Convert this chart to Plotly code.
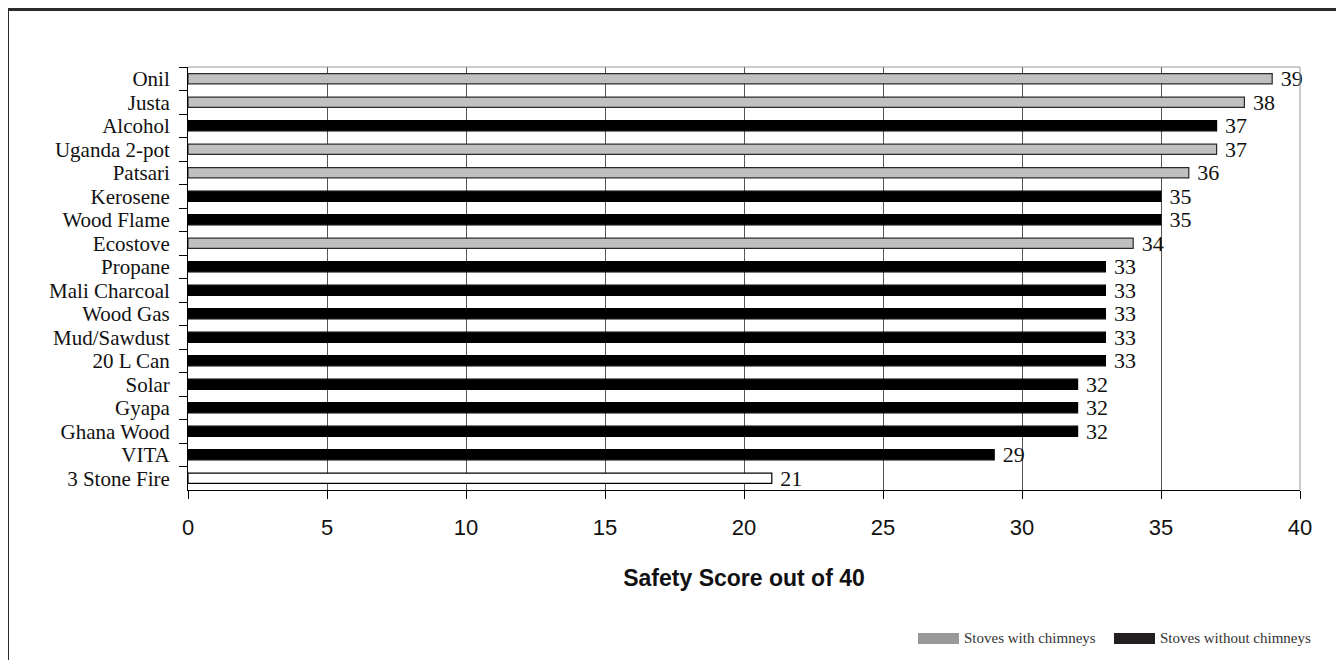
import plotly.graph_objects as go

categories = ["Onil", "Justa", "Alcohol", "Uganda 2-pot", "Patsari", "Kerosene", "Wood Flame",
              "Ecostove", "Propane", "Mali Charcoal", "Wood Gas", "Mud/Sawdust", "20 L Can",
              "Solar", "Gyapa", "Ghana Wood", "VITA", "3 Stone Fire"]
scores = [39, 38, 37, 37, 36, 35, 35, 34, 33, 33, 33, 33, 33, 32, 32, 32, 29, 21]
stove_type = ["chimney", "chimney", "none", "chimney", "chimney", "none", "none",
              "chimney", "none", "none", "none", "none", "none",
              "none", "none", "none", "none", "baseline"]
x_ticks = [0, 5, 10, 15, 20, 25, 30, 35, 40]

fill_map = {"chimney": "#c0c0c0", "none": "#000000", "baseline": "#ffffff"}
line_map = {"chimney": "#2a2a2a", "none": "#000000", "baseline": "#000000"}

SERIF = "Liberation Serif, Times New Roman, serif"
SANS = "Liberation Sans, Arial, sans-serif"

# page is offset by the 8px body margin
OFF = 8
W, H = 1336, 652
L, T = 188 - OFF, 67 - OFF
R = W - (1300 - OFF)
B = H - (490 - OFF)
pw, ph = W - L - R, H - T - B


def px_x(page_px):
    return (page_px - OFF - L) / pw


def px_y(page_py):
    return (H - B - (page_py - OFF)) / ph


fig = go.Figure()
fig.add_trace(go.Bar(
    y=categories, x=scores, orientation="h",
    marker=dict(color=[fill_map[t] for t in stove_type],
                line=dict(color=[line_map[t] for t in stove_type], width=1.2)),
    width=0.43,
    text=[" " + str(s) for s in scores], textposition="outside", constraintext="none",
    textfont=dict(family=SERIF, size=22, color="#111"),
    cliponaxis=False, showlegend=False,
))

shapes = [
    # outer frame
    dict(type="rect", xref="paper", yref="paper", x0=px_x(7.5), x1=px_x(1341.5),
         y0=px_y(700), y1=px_y(9.5), line=dict(color="#2b2b2b", width=3), layer="below"),
    # top and right plot border
    dict(type="line", xref="paper", yref="paper", x0=0, x1=1, y0=1, y1=1, line=dict(color="#999", width=1)),
    dict(type="line", xref="paper", yref="paper", x0=1, x1=1, y0=0, y1=1, line=dict(color="#999", width=1)),
    # legend swatches
    dict(type="rect", xref="paper", yref="paper", x0=px_x(918), x1=px_x(959), y0=px_y(644), y1=px_y(633),
         fillcolor="#999999", line=dict(width=0)),
    dict(type="rect", xref="paper", yref="paper", x0=px_x(1114), x1=px_x(1155), y0=px_y(644), y1=px_y(633),
         fillcolor="#231f20", line=dict(width=0)),
]
annotations = [
    dict(xref="paper", yref="paper", x=px_x(962), y=px_y(638), text="Stoves with chimneys",
         showarrow=False, xanchor="left", yanchor="middle", font=dict(family=SERIF, size=15, color="#333")),
    dict(xref="paper", yref="paper", x=px_x(1158), y=px_y(638), text="Stoves without chimneys",
         showarrow=False, xanchor="left", yanchor="middle", font=dict(family=SERIF, size=15, color="#333")),
]

fig.update_layout(
    width=W, height=H,
    margin=dict(l=L, r=R, t=T, b=B, pad=0),
    paper_bgcolor="white", plot_bgcolor="white",
    shapes=shapes, annotations=annotations,
    xaxis=dict(range=[0, 40], tickvals=x_ticks, ticks="outside", ticklen=8, tickcolor="#000",
               showline=True, linecolor="#000", linewidth=1,
               showgrid=True, gridcolor="#555", gridwidth=1, zeroline=False,
               ticklabelstandoff=10,
               tickfont=dict(family=SANS, size=22, color="#111"),
               title=dict(text="<b>Safety Score out of 40</b>", font=dict(family=SANS, size=23, color="#111"),
                          standoff=30)),
    yaxis=dict(autorange="reversed", type="category", tickmode="linear", dtick=1,
               ticks="outside", ticklen=8, tickcolor="#000",
               tickson="boundaries", showline=True, linecolor="#000", linewidth=1,
               showgrid=False, ticklabelstandoff=13,
               tickfont=dict(family=SERIF, size=21, color="#111")),
)

fig.write_html("out.html")
